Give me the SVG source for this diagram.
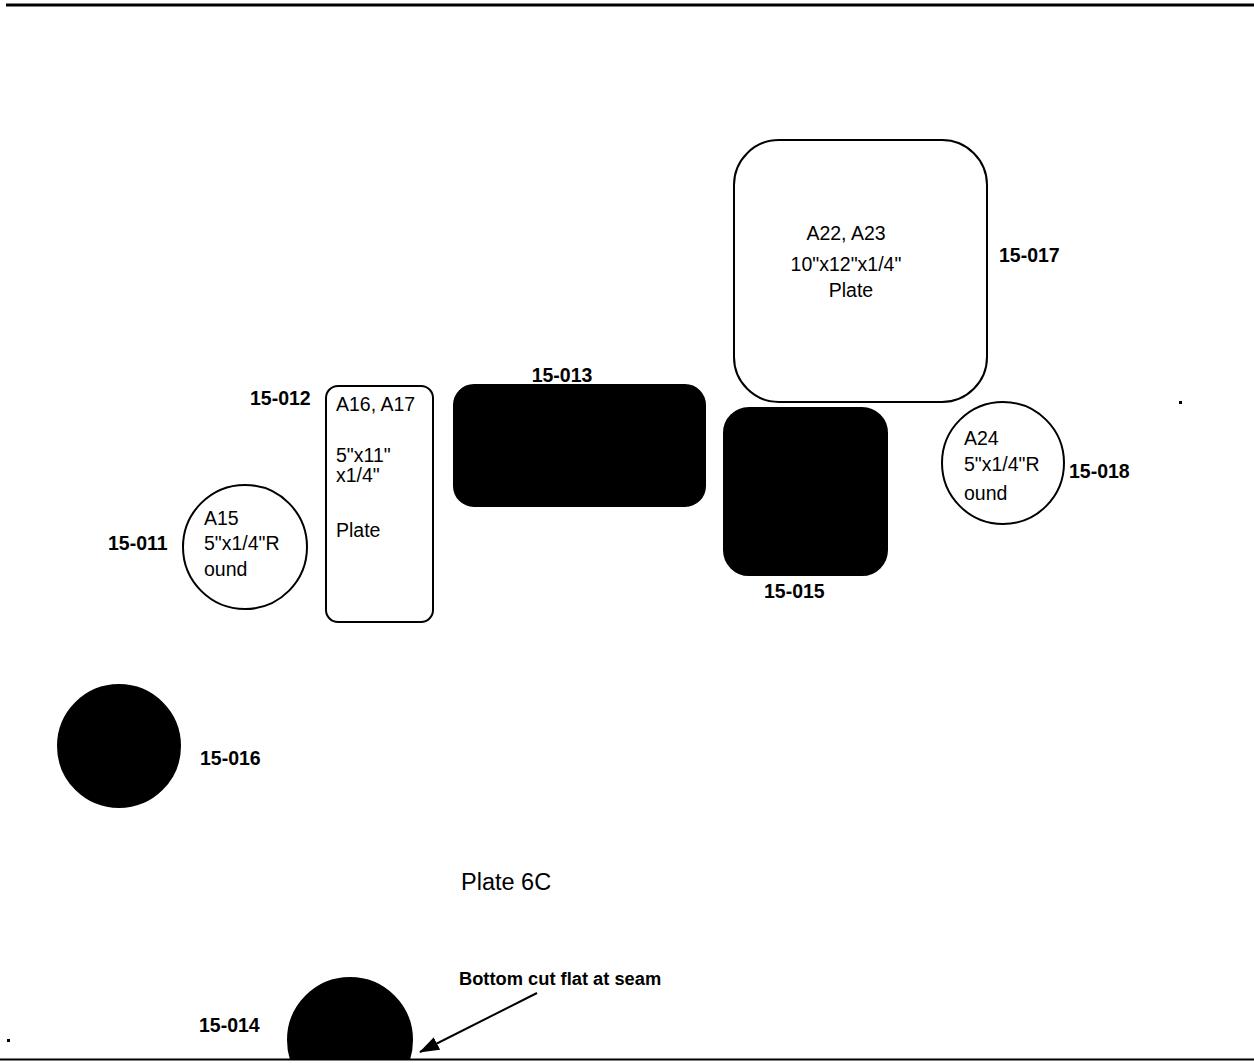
<svg xmlns="http://www.w3.org/2000/svg" width="1254" height="1063" viewBox="0 0 1254 1063">
<style>
.o{fill:#fff;stroke:#000;stroke-width:2}
.f{fill:#000;stroke:#000;stroke-width:2}
.t{font-family:"Liberation Sans",Arial,sans-serif;font-size:19.5px;fill:#000}
.b{font-family:"Liberation Sans",Arial,sans-serif;font-size:19.5px;font-weight:bold;fill:#000}
</style>
<defs>
<marker id="ahb" markerWidth="20" markerHeight="14" refX="19" refY="7" orient="auto" markerUnits="userSpaceOnUse" viewBox="0 0 20 14">
<path d="M0,0 L20,7 L0,14 Z" fill="#000"/>
</marker>
<clipPath id="cut"><rect x="0" y="0" width="1254" height="1059"/></clipPath>
</defs>
<rect width="1254" height="1063" fill="#fff"/>
<line x1="6" y1="5" x2="1254" y2="5" stroke="#000" stroke-width="3"/>
<line x1="0" y1="1059.5" x2="1254" y2="1059.5" stroke="#000" stroke-width="2"/>
<rect x="1179" y="401" width="3" height="3" fill="#000"/>
<rect x="7" y="1039" width="3" height="3" fill="#000"/>

<g id="n15-017">
<rect class="o" x="734" y="140" width="253" height="262" rx="45"/>
<text class="t" x="846" y="240" text-anchor="middle">A22, A23</text>
<text class="t" x="846" y="271" text-anchor="middle">10"x12"x1/4"</text>
<text class="t" x="851" y="297" text-anchor="middle">Plate</text>
<text class="b" x="999" y="262">15-017</text>
</g>

<g id="n15-012">
<rect class="o" x="326" y="386" width="107" height="236" rx="12"/>
<text class="t" x="336" y="411">A16, A17</text>
<text class="t" x="336" y="462">5"x11"</text>
<text class="t" x="336" y="482">x1/4"</text>
<text class="t" x="336" y="537">Plate</text>
<text class="b" x="250" y="405">15-012</text>
</g>

<g id="n15-013">
<rect class="f" x="454" y="385" width="251" height="121" rx="20"/>
<text class="b" x="562" y="382" text-anchor="middle">15-013</text>
</g>

<g id="n15-015">
<rect class="f" x="724" y="408" width="163" height="167" rx="25"/>
<text class="b" x="764" y="598">15-015</text>
</g>

<g id="n15-018">
<circle class="o" cx="1003" cy="463" r="61"/>
<text class="t" x="964" y="445">A24</text>
<text class="t" x="964" y="471">5"x1/4"R</text>
<text class="t" x="964" y="500">ound</text>
<text class="b" x="1069" y="478">15-018</text>
</g>

<g id="n15-011">
<circle class="o" cx="245" cy="547" r="62"/>
<text class="t" x="204" y="525">A15</text>
<text class="t" x="204" y="550">5"x1/4"R</text>
<text class="t" x="204" y="576">ound</text>
<text class="b" x="108" y="550">15-011</text>
</g>

<g id="n15-016">
<circle class="f" cx="119" cy="746" r="61"/>
<text class="b" x="200" y="765">15-016</text>
</g>

<text class="t" x="461" y="890" style="font-size:23.5px">Plate 6C</text>

<g id="n15-014">
<circle class="f" cx="350" cy="1040" r="62" clip-path="url(#cut)"/>
<text class="b" x="199" y="1032">15-014</text>
</g>

<g id="connectors">
<line x1="537" y1="993" x2="420" y2="1052" stroke="#000" stroke-width="2" marker-end="url(#ahb)"/>
<text class="b" x="459" y="985" style="font-size:18.3px">Bottom cut flat at seam</text>
</g>
</svg>
